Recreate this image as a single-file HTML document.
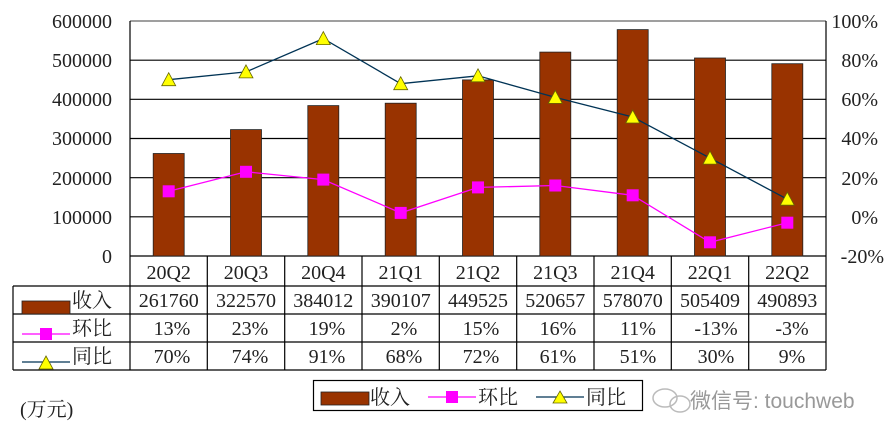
<!DOCTYPE html>
<html><head><meta charset="utf-8"><style>body{margin:0;background:#fff}svg{display:block}</style></head><body>
<svg width="896" height="440" xmlns="http://www.w3.org/2000/svg" font-family="Liberation Serif, Noto Serif CJK SC, serif" font-size="20" fill="#222">
<rect width="896" height="440" fill="#fff"/>
<g stroke="#000" stroke-width="1.2">
<line x1="130" y1="21" x2="826" y2="21" stroke="#666"/>
<line x1="130" y1="60.2" x2="826" y2="60.2"/>
<line x1="130" y1="99.3" x2="826" y2="99.3"/>
<line x1="130" y1="138.5" x2="826" y2="138.5"/>
<line x1="130" y1="177.7" x2="826" y2="177.7"/>
<line x1="130" y1="216.8" x2="826" y2="216.8"/>
<line x1="130" y1="21" x2="130" y2="370"/>
<line x1="826" y1="21" x2="826" y2="370"/>
<line x1="13" y1="286" x2="826" y2="286"/>
<line x1="13" y1="314" x2="826" y2="314"/>
<line x1="13" y1="342" x2="826" y2="342"/>
<line x1="13" y1="370" x2="826" y2="370"/>
<line x1="130" y1="256" x2="826" y2="256"/>
<line x1="13" y1="286" x2="13" y2="370"/>
<g>
<line x1="207.3" y1="256" x2="207.3" y2="370"/><line x1="284.7" y1="256" x2="284.7" y2="370"/>
<line x1="362" y1="256" x2="362" y2="370"/><line x1="439.3" y1="256" x2="439.3" y2="370"/>
<line x1="516.7" y1="256" x2="516.7" y2="370"/><line x1="594" y1="256" x2="594" y2="370"/>
<line x1="671.3" y1="256" x2="671.3" y2="370"/><line x1="748.7" y1="256" x2="748.7" y2="370"/>
</g></g>
<g fill="#993300" stroke="#222" stroke-width="0.8">
<rect x="153.2" y="153.5" width="31" height="102.5"/>
<rect x="230.5" y="129.6" width="31" height="126.4"/>
<rect x="307.8" y="105.6" width="31" height="150.4"/>
<rect x="385.2" y="103.2" width="31" height="152.8"/>
<rect x="462.5" y="79.9" width="31" height="176.1"/>
<rect x="539.8" y="52.1" width="31" height="203.9"/>
<rect x="617.2" y="29.6" width="31" height="226.4"/>
<rect x="694.5" y="58" width="31" height="198"/>
<rect x="771.8" y="63.7" width="31" height="192.3"/>
</g>
<polyline fill="none" stroke="#ff00ff" stroke-width="1.3" points="168.7,191.3 246,171.8 323.3,179.6 400.7,212.9 478,187.4 555.3,185.5 632.7,195.3 710,242.3 787.3,222.7"/>
<g fill="#ff00ff">
<rect x="162.7" y="185.3" width="12" height="12"/><rect x="240" y="165.8" width="12" height="12"/><rect x="317.3" y="173.6" width="12" height="12"/><rect x="394.7" y="206.9" width="12" height="12"/><rect x="472" y="181.4" width="12" height="12"/><rect x="549.3" y="179.5" width="12" height="12"/><rect x="626.7" y="189.3" width="12" height="12"/><rect x="704" y="236.3" width="12" height="12"/><rect x="781.3" y="216.7" width="12" height="12"/>
</g>
<polyline fill="none" stroke="#003355" stroke-width="1.3" points="168.7,79.7 246,71.9 323.3,38.6 400.7,83.7 478,75.8 555.3,97.4 632.7,117 710,158.1 787.3,199.2"/>
<g fill="#ffff00" stroke="#666600" stroke-width="0.8">
<path d="M168.7,72.7 l7,13 h-14z"/><path d="M246,64.9 l7,13 h-14z"/><path d="M323.3,31.6 l7,13 h-14z"/><path d="M400.7,76.7 l7,13 h-14z"/><path d="M478,68.8 l7,13 h-14z"/><path d="M555.3,90.4 l7,13 h-14z"/><path d="M632.7,110 l7,13 h-14z"/><path d="M710,151.1 l7,13 h-14z"/><path d="M787.3,192.2 l7,13 h-14z"/>
</g>
<g text-anchor="end">
<text x="112" y="28">600000</text><text x="112" y="67">500000</text><text x="112" y="106">400000</text><text x="112" y="145">300000</text><text x="112" y="185">200000</text><text x="112" y="224">100000</text><text x="112" y="263">0</text>
<text x="878" y="28">100%</text><text x="878" y="67">80%</text><text x="878" y="106">60%</text><text x="878" y="145">40%</text><text x="878" y="185">20%</text><text x="878" y="224">0%</text><text x="884" y="263">-20%</text>
</g>
<g text-anchor="middle">
<text x="168.7" y="279">20Q2</text><text x="246" y="279">20Q3</text><text x="323.3" y="279">20Q4</text><text x="400.7" y="279">21Q1</text><text x="478" y="279">21Q2</text><text x="555.3" y="279">21Q3</text><text x="632.7" y="279">21Q4</text><text x="710" y="279">22Q1</text><text x="787.3" y="279">22Q2</text>
<text x="168.7" y="307">261760</text><text x="246" y="307">322570</text><text x="323.3" y="307">384012</text><text x="400.7" y="307">390107</text><text x="478" y="307">449525</text><text x="555.3" y="307">520657</text><text x="632.7" y="307">578070</text><text x="710" y="307">505409</text><text x="787.3" y="307">490893</text>
<text x="172" y="335">13%</text><text x="250" y="335">23%</text><text x="327" y="335">19%</text><text x="404" y="335">2%</text><text x="481" y="335">15%</text><text x="558" y="335">16%</text><text x="638" y="335">11%</text><text x="716" y="335">-13%</text><text x="792" y="335">-3%</text>
<text x="172" y="363">70%</text><text x="250" y="363">74%</text><text x="327" y="363">91%</text><text x="404" y="363">68%</text><text x="481" y="363">72%</text><text x="558" y="363">61%</text><text x="638" y="363">51%</text><text x="716" y="363">30%</text><text x="792" y="363">9%</text>
</g>
<rect x="22" y="301" width="48" height="13" fill="#993300" stroke="#222" stroke-width="0.8"/>
<text x="72" y="307">收入</text>
<line x1="22" y1="334" x2="70" y2="334" stroke="#ff00ff" stroke-width="1.3"/><rect x="40" y="328" width="12" height="12" fill="#ff00ff"/>
<text x="72" y="335">环比</text>
<line x1="22" y1="362" x2="70" y2="362" stroke="#003355" stroke-width="1.3"/><path d="M46,356 l7,13 h-14z" fill="#ffff00" stroke="#666600" stroke-width="0.8"/>
<text x="72" y="363">同比</text>
<text x="20" y="416">(万元)</text>
<rect x="313.5" y="380.5" width="329" height="30" fill="#fff" stroke="#000" stroke-width="1.2"/>
<rect x="321" y="392" width="48" height="13" fill="#993300" stroke="#222" stroke-width="0.8"/>
<text x="370" y="404">收入</text>
<line x1="428" y1="397" x2="476" y2="397" stroke="#ff00ff" stroke-width="1.3"/><rect x="446" y="391" width="12" height="12" fill="#ff00ff"/>
<text x="478" y="404">环比</text>
<line x1="536" y1="397" x2="584" y2="397" stroke="#003355" stroke-width="1.3"/><path d="M560,391 l7,12 h-14z" fill="#ffff00" stroke="#666600" stroke-width="0.8"/>
<text x="586" y="404">同比</text>
<g fill="none" stroke="#bbb" stroke-width="1.5"><ellipse cx="665" cy="398" rx="12" ry="9"/><ellipse cx="680" cy="404" rx="10" ry="8"/></g>
<text x="690" y="408" fill="#999" font-family="Liberation Sans, Noto Sans CJK SC, sans-serif" font-size="21">微信号: touchweb</text>
</svg>
</body></html>
